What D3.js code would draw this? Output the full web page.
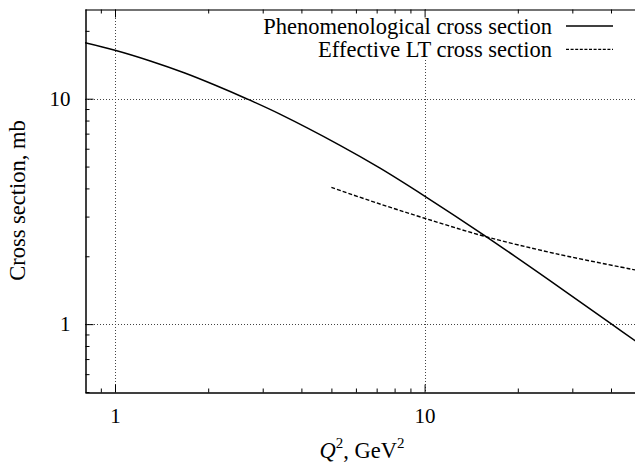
<!DOCTYPE html>
<html>
<head>
<meta charset="utf-8">
<script src="https://cdn.jsdelivr.net/npm/d3@7"></script>
<style>
  html, body { margin: 0; padding: 0; background: #fff; }
  svg { display: block; font-family: "Liberation Serif", "Times New Roman", serif; }
</style>
</head>
<body>
<svg id="chart" width="635" height="464"></svg>
<script>
// ---- data ----
const solidQ2    = [0.8, 1.0, 1.3, 1.68, 2.1, 2.66, 3.41, 5.33, 7.18, 10, 15.5, 25.4, 40.2, 50];
const solidSigma = [17.7, 16.4, 14.7, 13.0, 11.5, 10.0, 8.54, 6.21, 4.92, 3.70, 2.49, 1.56, 1.0, 0.81];
const dashedQ2    = [5.0, 7.0, 10, 15.5, 26.7, 50];
const dashedSigma = [4.04, 3.45, 2.95, 2.46, 2.05, 1.72];
const xMajorTicks = [1, 10];
const xMinorTicks = [0.9, 2, 3, 4, 5, 6, 7, 8, 9, 20, 30, 40, 50];
const yMajorTicks = [1, 10];
const yMinorTicks = [0.5, 0.6, 0.7, 0.8, 0.9, 2, 3, 4, 5, 6, 7, 8, 9, 20];
const legendLabels = ["Phenomenological cross section", "Effective LT cross section"];
const yTitle = "Cross section, mb";

// ---- layout ----
const L = 85, R = 641, T = 9, B = 392;
const FONT = "'Liberation Serif', 'Times New Roman', serif";
const svg = d3.select("#chart");
const x = d3.scaleLog().domain([0.8, 50]).range([L, R]);
const y = d3.scaleLog().domain([0.5, 25]).range([B, T]);

svg.append("defs").append("clipPath").attr("id", "clip")
  .append("rect").attr("x", L).attr("y", T).attr("width", R - L).attr("height", B - T);

// grid
const grid = svg.append("g").attr("stroke", "#444").attr("stroke-width", 1).attr("stroke-dasharray", "1,2");
grid.selectAll("line.gx").data(xMajorTicks).join("line")
  .attr("x1", d => Math.round(x(d)) + 0.5).attr("x2", d => Math.round(x(d)) + 0.5)
  .attr("y1", T).attr("y2", B);
grid.selectAll("line.gy").data(yMajorTicks).join("line")
  .attr("y1", d => Math.round(y(d)) + 0.5).attr("y2", d => Math.round(y(d)) + 0.5)
  .attr("x1", L).attr("x2", R);

// legend background masks grid
svg.append("rect").attr("x", 255).attr("y", T + 1).attr("width", 380).attr("height", 50).attr("fill", "#fff");

// axes
function styleAxis(g) {
  g.select(".domain").attr("stroke", "#000").attr("stroke-width", 1);
  g.selectAll(".tick line").attr("stroke", "#000");
  g.selectAll("text").attr("font-family", FONT).attr("font-size", 21).attr("fill", "#000");
}
svg.append("g").attr("transform", `translate(0,${B + 0.5})`)
  .call(d3.axisBottom(x).tickValues(xMajorTicks).tickFormat(d3.format("d")).tickSize(-8).tickSizeOuter(0).tickPadding(16))
  .call(styleAxis);
svg.append("g").attr("transform", `translate(0,${B + 0.5})`)
  .call(d3.axisBottom(x).tickValues(xMinorTicks).tickFormat("").tickSize(-4).tickSizeOuter(0))
  .call(styleAxis);
svg.append("g").attr("transform", `translate(0,${T + 0.5})`)
  .call(d3.axisTop(x).tickValues(xMajorTicks).tickFormat("").tickSize(-8).tickSizeOuter(0))
  .call(styleAxis).select(".domain").attr("stroke", "#444").attr("stroke-width", 1.5);
svg.append("g").attr("transform", `translate(0,${T + 0.5})`)
  .call(d3.axisTop(x).tickValues(xMinorTicks).tickFormat("").tickSize(-4).tickSizeOuter(0))
  .call(styleAxis).select(".domain").remove();
svg.append("g").attr("transform", `translate(${L + 0.5},0)`)
  .call(d3.axisLeft(y).tickValues(yMajorTicks).tickFormat(d3.format("d")).tickSize(-8).tickSizeOuter(0).tickPadding(15))
  .call(styleAxis);
svg.append("g").attr("transform", `translate(${L + 0.5},0)`)
  .call(d3.axisLeft(y).tickValues(yMinorTicks).tickFormat("").tickSize(-4).tickSizeOuter(0))
  .call(styleAxis);

// curves
const line = d3.line().x(d => x(d[0])).y(d => y(d[1])).curve(d3.curveCatmullRom.alpha(0.5));
const plot = svg.append("g").attr("clip-path", "url(#clip)");
plot.append("path").datum(d3.zip(solidQ2, solidSigma)).attr("d", line)
  .attr("fill", "none").attr("stroke", "#000").attr("stroke-width", 1.5);
plot.append("path").datum(d3.zip(dashedQ2, dashedSigma)).attr("d", line)
  .attr("fill", "none").attr("stroke", "#000").attr("stroke-width", 1.4).attr("stroke-dasharray", "4,2");

// legend
const leg = svg.append("g");
const legDash = [null, "3,1.6"];
legendLabels.forEach((lab, i) => {
  const by = 33.5 + i * 23.3;
  leg.append("text").attr("x", 552).attr("y", by).attr("text-anchor", "end")
    .attr("font-family", FONT).attr("font-size", 22.5).attr("fill", "#000").text(lab);
  leg.append("line").attr("x1", 566).attr("x2", 613).attr("y1", by - 7.5).attr("y2", by - 7.5)
    .attr("stroke", "#000").attr("stroke-width", i === 0 ? 1.5 : 1.2)
    .attr("stroke-dasharray", legDash[i]);
});

// axis titles
const xt = svg.append("text").attr("x", (L + R) / 2 - 1).attr("y", 458).attr("text-anchor", "middle")
  .attr("font-family", FONT).attr("font-size", 22.5).attr("fill", "#000");
xt.append("tspan").attr("font-style", "italic").text("Q");
xt.append("tspan").attr("font-size", 15).attr("dy", -10).text("2");
xt.append("tspan").attr("dy", 10).text(", GeV");
xt.append("tspan").attr("font-size", 15).attr("dy", -10).text("2");

svg.append("text").attr("transform", `translate(25,${(T + B) / 2}) rotate(-90)`)
  .attr("text-anchor", "middle").attr("font-family", FONT).attr("font-size", 22.5).attr("fill", "#000").text(yTitle);
</script>
</body>
</html>
